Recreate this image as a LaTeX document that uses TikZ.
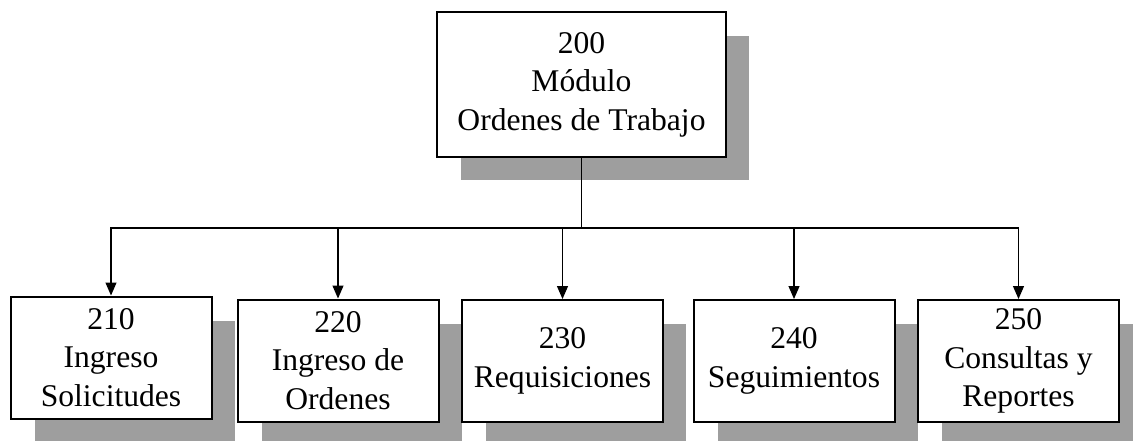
\documentclass[tikz,border=0pt]{standalone}
\usepackage{fontspec}
\setmainfont{Liberation Serif}
\usetikzlibrary{positioning,calc,backgrounds,arrows.meta}
\tikzstyle{orgchart}=[
  x=0.5pt,y=-0.5pt,>={Triangle[width=5.5pt,length=6.5pt]},font=\fontsize{15.8}{19.2}\selectfont
]
\tikzstyle{modbox}=[
  draw,line width=1pt,fill=white,align=center,inner sep=2pt,minimum width=100.5pt,minimum height=61pt
]
\tikzstyle{topbox}=[
  modbox,minimum width=144.5pt,minimum height=72.5pt
]
\tikzstyle{boxshadow}=[
  fill=black!38
]
\tikzstyle{conn}=[
  line width=0.6pt
]

\begin{document}
\begin{tikzpicture}[orgchart]
      \useasboundingbox (0,0) rectangle (1133,440);
      \node (m200) at (581.5,84.5) [topbox] {200\\Módulo\\Ordenes de Trabajo};
      \node (m210) at (111,357.5) [modbox] {210\\Ingreso\\Solicitudes};
      \node (m220) at (338,360.5) [modbox] {220\\Ingreso de\\Ordenes};
      \node (m230) at (562.5,361) [modbox] {230\\Requisiciones};
      \node (m240) at (794,361) [modbox] {240\\Seguimientos};
      \node (m250) at (1018.5,361) [modbox] {250\\Consultas y\\Reportes};
      \coordinate (bus) at (581.5,228);
    \begin{scope}[on background layer]
      \foreach \m in {m200,m210,m220,m230,m240,m250}
        \fill [boxshadow] ($(\m.south west)+(12.5pt,-11pt)$) rectangle ($(\m.north east)+(11pt,-12.5pt)$);
    \end{scope}
      \foreach \m in {m210,m220,m230,m240,m250}
        \draw [conn,->] (m200.south) -- (bus) -| (\m.north);
\end{tikzpicture}
\end{document}
